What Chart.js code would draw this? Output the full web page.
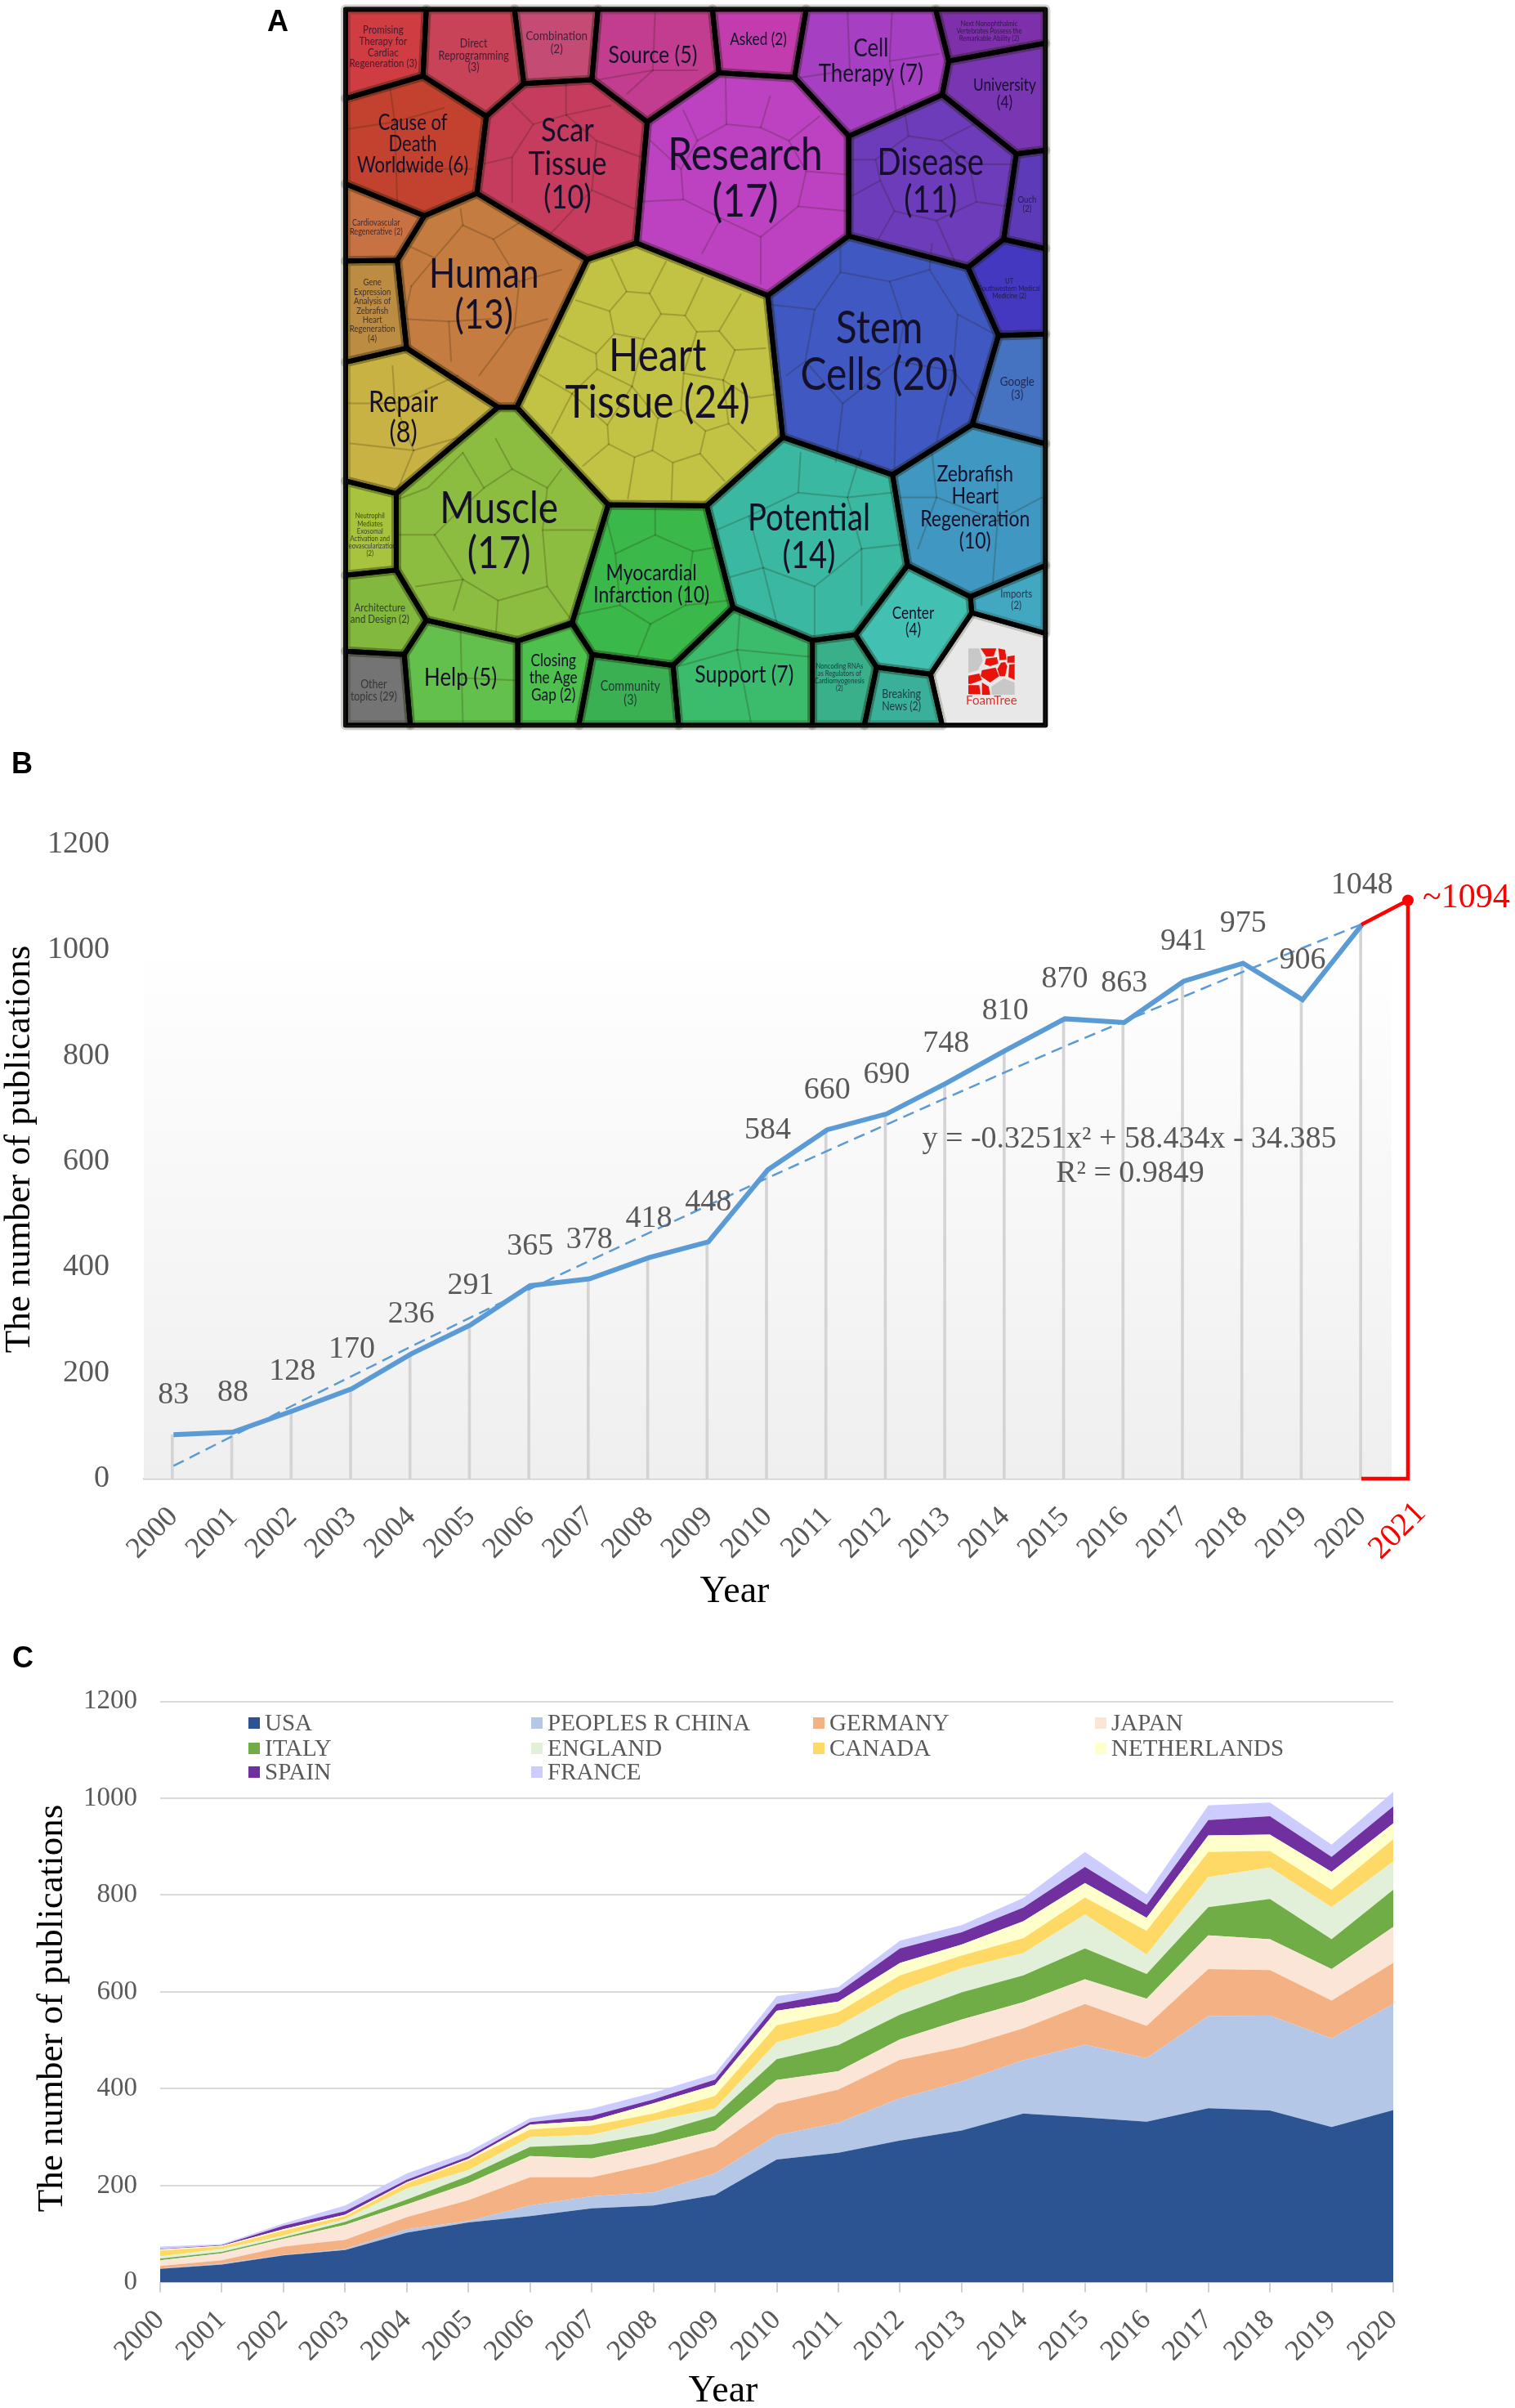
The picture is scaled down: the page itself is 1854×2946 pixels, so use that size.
<!DOCTYPE html>
<html>
<head>
<meta charset="utf-8">
<title>Cardiac regeneration publications</title>
<script src="https://cdn.jsdelivr.net/npm/chart.js@4"></script>
<style>
    html, body { margin: 0; padding: 0; background: #fff; }
    body { position: relative; width: 1854px; height: 2946px; overflow: hidden; }
    canvas { position: absolute; left: 0; }
</style>
</head>
<body>
<canvas id="foamChart" width="1854" height="900" style="top:0"></canvas>
<canvas id="trendChart" width="1854" height="1080" style="top:900px"></canvas>
<canvas id="countryChart" width="1854" height="946" style="top:2000px"></canvas>
<script>
// Panel B data
const years = ['2000', '2001', '2002', '2003', '2004', '2005', '2006', '2007', '2008', '2009', '2010',
    '2011', '2012', '2013', '2014', '2015', '2016', '2017', '2018', '2019', '2020'];
const publications = [83, 88, 128, 170, 236, 291, 365, 378, 418, 448, 584, 660, 690, 748, 810, 870, 863, 941, 975, 906, 1048];
const trendValues = [24, 81, 138, 194, 250, 305, 359, 412, 465, 517, 569, 620, 670, 720, 769, 818, 865, 912, 959, 1004, 1049];
const forecastYears = [2020, 2021, 2021, 2020];
const forecastValues = [1048, 1094, 0, 0];
const yTicks = [0, 200, 400, 600, 800, 1000, 1200];

// Panel C data
const countryNames = ['USA', 'PEOPLES R CHINA', 'GERMANY', 'JAPAN', 'ITALY', 'ENGLAND', 'CANADA', 'NETHERLANDS', 'SPAIN', 'FRANCE'];
const countryColors = ['#2c5392', '#b4c7e7', '#f4b183', '#fbe5d6', '#70ad47', '#e2f0d9', '#ffd966', '#ffffcc', '#7030a0', '#ccccff'];
const usa = [28, 37, 56, 67, 103, 124, 137, 153, 159, 181, 254, 268, 293, 314, 349, 341, 332, 360, 355, 321, 356];
const china = [1, 2, 1, 2, 7, 3, 22, 25, 27, 44, 50, 62, 87, 101, 110, 150, 131, 190, 196, 183, 219];
const germany = [5, 7, 17, 19, 25, 43, 58, 39, 59, 56, 65, 68, 80, 71, 66, 84, 67, 97, 94, 78, 85];
const japan = [12, 14, 16, 31, 26, 35, 44, 39, 38, 33, 49, 38, 42, 57, 54, 51, 56, 70, 64, 65, 74];
const italy = [3, 3, 3, 6, 10, 15, 19, 29, 24, 30, 43, 54, 51, 56, 55, 64, 51, 58, 83, 62, 77];
const england = [5, 6, 4, 6, 23, 12, 20, 20, 27, 15, 35, 40, 49, 50, 46, 70, 40, 62, 65, 66, 58];
const canada = [12, 5, 10, 6, 11, 20, 16, 19, 15, 26, 35, 28, 32, 26, 31, 35, 49, 52, 34, 36, 46];
const netherlands = [2, 2, 3, 3, 2, 3, 10, 10, 21, 23, 30, 22, 26, 23, 35, 30, 27, 34, 34, 37, 33];
const spain = [1, 1, 7, 7, 5, 5, 5, 10, 8, 11, 14, 19, 30, 25, 28, 33, 27, 32, 38, 31, 35];
const france = [5, 2, 5, 12, 13, 10, 8, 15, 14, 12, 16, 11, 16, 15, 20, 31, 22, 30, 28, 25, 30];
const countrySeries = [usa, china, germany, japan, italy, england, canada, netherlands, spain, france];

// Panel A data: one outline per topic (units of the foam map, 0-1568)
const foamLabels = [
    ['Promising', 'Therapy for', 'Cardiac', 'Regeneration (3)'], ['Direct', 'Reprogramming', '(3)'], ['Combination', '(2)'],
    ['Source (5)'], ['Asked (2)'], ['Cell', 'Therapy (7)'],
    ['Next Nonophthalmic', 'Vertebrates Possess the', 'Remarkable Ability (2)'], ['University', '(4)'], ['Ouch', '(2)'],
    ['Disease', '(11)'], ['Research', '(17)'], ['Scar', 'Tissue', '(10)'],
    ['Cause of', 'Death', 'Worldwide (6)'], ['Cardiovascular', 'Regenerative (2)'], ['Human', '(13)'],
    ['Gene', 'Expression', 'Analysis of', 'Zebrafish', 'Heart', 'Regeneration', '(4)'], ['Repair', '(8)'], ['Heart', 'Tissue (24)'],
    ['Stem', 'Cells (20)'], ['UT', 'Southwestern Medical', 'Medicine (2)'], ['Google', '(3)'],
    ['Muscle', '(17)'], ['Neutrophil', 'Mediates', 'Exosomal', 'Activation and', 'Neovascularization', '(2)'], ['Architecture', 'and Design (2)'],
    ['Other', 'topics (29)'], ['Help (5)'], ['Closing', 'the Age', 'Gap (2)'],
    ['Myocardial', 'Infarction (10)'], ['Community', '(3)'], ['Support (7)'],
    ['Potential', '(14)'], ['Zebrafish', 'Heart', 'Regeneration', '(10)'], ['Imports', '(2)'],
    ['Center', '(4)'], ['Noncoding RNAs', 'as Regulators of', 'Cardiomyogenesis', '(2)'], ['Breaking', 'News (2)']
];
const foamLabelCenters = [
    [120, 100], [313, 118], [490, 90], [695, 118], [920, 85], [1160, 130],
    [1412, 66], [1445, 200], [1493, 435], [1287, 387], [892, 380], [513, 350],
    [183, 308], [105, 484], [335, 628], [97, 662], [163, 890], [705, 808],
    [1178, 750], [1455, 615], [1472, 828], [367, 1132], [92, 1140], [113, 1308],
    [100, 1472], [285, 1445], [483, 1445], [692, 1245], [647, 1478], [890, 1438],
    [1028, 1145], [1382, 1082], [1470, 1278], [1250, 1325], [1093, 1443], [1225, 1492]
];
const foamLabelSizes = [12, 13, 14, 26, 18, 27, 8, 18, 10, 40, 50, 36, 23, 9.5, 44, 10, 32, 50, 50, 8, 14, 48, 8, 12, 13, 27, 18, 24, 15, 26, 40, 24, 12, 18, 8, 13];
const foamColors = [
    '#cf3c42', '#c84258', '#c44c74', '#c23c90', '#c23cae', '#a63fc2',
    '#7e30aa', '#7a36b2', '#5c3ab8', '#6c3cba', '#bc42c2', '#c63c5e',
    '#c2422f', '#c87244', '#c47c40', '#bc8c42', '#c8b244', '#c2c244',
    '#4058c2', '#4438c0', '#4672c2', '#8cbc40', '#a8c43e', '#82b83e',
    '#747474', '#64c04c', '#4ec04e', '#3ab84a', '#3ab052', '#3abc6c',
    '#3ab8a2', '#4098c2', '#42a8c2', '#42c0b2', '#3ab08a', '#3ab09a'
];
const foamOutlines = [
    [[40, 20], [212, 20], [205, 162], [40, 210]],
    [[212, 20], [400, 20], [420, 178], [340, 248], [205, 162]],
    [[400, 20], [578, 20], [565, 170], [420, 178]],
    [[578, 20], [822, 20], [836, 155], [683, 260], [565, 170]],
    [[822, 20], [1022, 20], [997, 165], [836, 155]],
    [[1022, 20], [1298, 20], [1326, 130], [1312, 202], [1113, 290], [997, 165]],
    [[1298, 20], [1532, 20], [1532, 92], [1326, 130]],
    [[1326, 130], [1532, 92], [1532, 320], [1470, 328], [1312, 202]],
    [[1470, 328], [1532, 320], [1532, 530], [1443, 510]],
    [[1113, 290], [1312, 202], [1470, 328], [1443, 510], [1367, 570], [1112, 503]],
    [[836, 155], [997, 165], [1113, 290], [1112, 503], [940, 630], [660, 518], [683, 260]],
    [[420, 178], [565, 170], [683, 260], [660, 518], [555, 553], [320, 412], [340, 248]],
    [[40, 210], [205, 162], [340, 248], [320, 412], [208, 460], [40, 392]],
    [[40, 392], [208, 460], [150, 555], [40, 556]],
    [[208, 460], [320, 412], [555, 553], [405, 868], [365, 868], [170, 742], [150, 555]],
    [[40, 556], [150, 555], [170, 742], [40, 772]],
    [[40, 772], [170, 742], [365, 868], [148, 1052], [40, 1025]],
    [[555, 553], [660, 518], [940, 630], [972, 932], [810, 1078], [600, 1076], [405, 868]],
    [[940, 630], [1112, 503], [1367, 570], [1432, 715], [1376, 905], [1206, 1012], [972, 932]],
    [[1367, 570], [1443, 510], [1532, 530], [1532, 712], [1432, 715]],
    [[1432, 715], [1532, 712], [1532, 946], [1376, 905]],
    [[365, 868], [405, 868], [600, 1076], [523, 1327], [407, 1366], [212, 1322], [148, 1215], [148, 1052]],
    [[40, 1025], [148, 1052], [148, 1215], [40, 1226]],
    [[40, 1226], [148, 1215], [212, 1322], [165, 1395], [40, 1388]],
    [[40, 1388], [165, 1395], [178, 1546], [40, 1546]],
    [[212, 1322], [407, 1366], [407, 1546], [178, 1546], [165, 1395]],
    [[407, 1366], [523, 1330], [566, 1395], [537, 1546], [407, 1546]],
    [[600, 1076], [810, 1078], [866, 1295], [738, 1418], [566, 1395], [523, 1327]],
    [[566, 1395], [738, 1418], [750, 1546], [537, 1546]],
    [[866, 1295], [1035, 1365], [1035, 1546], [750, 1546], [738, 1418]],
    [[810, 1078], [972, 932], [1206, 1012], [1238, 1205], [1127, 1353], [1035, 1365], [866, 1295]],
    [[1206, 1012], [1376, 905], [1532, 946], [1532, 1205], [1372, 1272], [1238, 1205]],
    [[1372, 1272], [1532, 1205], [1532, 1350], [1375, 1306]],
    [[1238, 1205], [1372, 1272], [1375, 1306], [1287, 1437], [1172, 1422], [1127, 1353]],
    [[1035, 1365], [1127, 1353], [1172, 1422], [1146, 1546], [1035, 1546]],
    [[1172, 1422], [1287, 1437], [1312, 1546], [1146, 1546]]
];
const foamLogoOutline = [[1375, 1306], [1532, 1350], [1532, 1546], [1312, 1546], [1287, 1437]];

// sub-topic walls inside the big cells, each one a short polyline
const foamInnerWalls = [
    // Research
    [[850, 165], [852, 265], [925, 272], [945, 205]], [[925, 272], [985, 300], [1050, 248]], [[985, 300], [1022, 365], [1108, 372]],
    [[1022, 365], [1005, 440], [1108, 450]], [[1005, 440], [925, 505], [840, 465], [760, 425], [755, 360], [790, 300], [852, 265]],
    [[925, 505], [925, 605]], [[840, 465], [800, 540]], [[760, 425], [668, 430]], [[755, 360], [690, 300]], [[790, 300], [760, 235]],
    // Stem cells
    [[1095, 510], [1095, 580], [1040, 660], [950, 650]], [[1095, 580], [1200, 600], [1285, 575], [1290, 520]], [[1200, 600], [1230, 690], [1215, 770]],
    [[1285, 575], [1345, 670], [1420, 710]], [[1040, 660], [1020, 770], [980, 800]], [[1020, 770], [1100, 860], [1215, 770], [1335, 790]],
    [[1100, 860], [1085, 985]], [[1215, 770], [1210, 1005]], [[1335, 790], [1300, 940]], [[1335, 790], [1385, 850]], [[1345, 670], [1335, 790]],
    // Muscle
    [[290, 965], [335, 1040], [395, 1000], [360, 935]], [[290, 965], [215, 1040], [150, 1065]], [[335, 1040], [270, 1100], [230, 1140]],
    [[395, 1000], [470, 1040], [500, 1000]], [[470, 1040], [460, 1130], [570, 1130]], [[230, 1140], [155, 1140]], [[230, 1140], [290, 1235], [190, 1250]],
    [[290, 1235], [270, 1300]], [[460, 1130], [470, 1250], [520, 1320]], [[470, 1250], [365, 1280], [360, 1355]], [[290, 1235], [365, 1280]],
    // Human
    [[285, 445], [290, 480], [355, 510], [410, 475]], [[290, 480], [230, 550], [165, 520]], [[355, 510], [410, 600], [500, 575]], [[230, 550], [180, 610]],
    [[180, 610], [165, 680], [260, 685], [350, 680]], [[410, 600], [400, 700], [470, 680]], [[400, 700], [325, 800]], [[260, 685], [265, 770]],
    // Potential
    [[1010, 965], [1005, 1050], [1110, 1060], [1140, 960]], [[1005, 1050], [900, 1100], [830, 1130]], [[1110, 1060], [1205, 1050]], [[1110, 1060], [1140, 1170], [1230, 1160]],
    [[900, 1100], [930, 1210], [860, 1230]], [[930, 1210], [960, 1330]], [[930, 1210], [1040, 1250], [1040, 1360]], [[1140, 1170], [1040, 1250]], [[1140, 1170], [1140, 1290]],
    // Disease
    [[1230, 225], [1240, 290], [1170, 340], [1120, 340]], [[1240, 290], [1310, 300], [1390, 260]], [[1310, 300], [1370, 350], [1462, 350]], [[1370, 350], [1385, 430], [1450, 440]],
    [[1385, 430], [1300, 470], [1340, 560]], [[1300, 470], [1210, 450], [1180, 385], [1170, 340]], [[1210, 450], [1170, 520]], [[1180, 385], [1115, 420]],
    // Scar tissue
    [[510, 178], [510, 245], [605, 225]], [[510, 245], [440, 265], [395, 220]], [[440, 265], [395, 335], [332, 350]], [[395, 335], [395, 430]],
    [[510, 245], [575, 300], [670, 335]], [[575, 300], [565, 405], [655, 445]], [[565, 405], [475, 500]],
    // Myocardial
    [[700, 1085], [700, 1140], [615, 1180], [595, 1100]], [[700, 1140], [780, 1175], [840, 1165]], [[615, 1180], [625, 1290], [530, 1310]], [[780, 1175], [765, 1290], [855, 1280]],
    [[625, 1290], [690, 1330], [765, 1290]], [[690, 1330], [660, 1405]],
    // Zebrafish
    [[1290, 965], [1300, 1060], [1210, 1060]], [[1300, 1060], [1430, 1110], [1525, 1060]], [[1430, 1110], [1420, 1240]], [[1300, 1060], [1260, 1170]], [[1430, 1000], [1430, 1110]],
    // Repair
    [[140, 780], [145, 860], [45, 860]], [[145, 860], [185, 960], [150, 1045]], [[145, 860], [280, 800]], [[185, 960], [50, 945]], [[185, 960], [290, 930]],
    // Cell therapy
    [[1110, 25], [1115, 150]], [[1205, 25], [1200, 130], [1305, 115]], [[1200, 130], [1215, 250]], [[1115, 150], [1010, 165]],
    // Cause of death
    [[135, 190], [145, 260], [45, 275]], [[145, 260], [150, 430]], [[145, 260], [250, 230]], [[150, 360], [310, 360]],
    // Source, Help, Support
    [[700, 25], [695, 150], [580, 170]], [[695, 150], [640, 200]], [[695, 150], [790, 150]],
    [[285, 1345], [290, 1540]], [[290, 1445], [400, 1450]],
    [[880, 1310], [875, 1385], [750, 1420]], [[875, 1385], [905, 1545]], [[875, 1385], [1030, 1400]]
];

const heartCrop = { x: 660, y: 290, scale: 3 };
const heartWalls = [
    [[265, 80], [320, 200], [405, 207], [465, 90]], [[135, 232], [258, 272], [320, 200]], [[405, 207], [447, 282], [535, 288], [600, 150]],
    [[535, 288], [578, 348], [660, 345], [740, 210]], [[660, 345], [718, 415], [830, 408]], [[718, 415], [675, 525], [775, 590], [860, 578]],
    [[578, 348], [530, 500], [675, 525]], [[258, 272], [275, 355], [385, 375], [447, 282]], [[275, 355], [208, 428], [72, 362]],
    [[208, 428], [212, 485], [340, 548], [385, 375]], [[212, 485], [120, 575], [0, 505]], [[120, 575], [45, 720]], [[120, 575], [250, 690], [255, 760], [160, 840]],
    [[255, 760], [350, 808], [325, 960]], [[350, 808], [415, 783], [490, 828], [485, 965]], [[490, 828], [590, 795], [680, 895]], [[590, 795], [610, 712], [695, 685], [795, 785]],
    [[415, 783], [435, 665], [520, 635], [610, 712]], [[340, 548], [250, 690]], [[340, 548], [435, 665]], [[530, 500], [520, 635]], [[675, 525], [695, 685]]
];
const logoCrop = { x: 980, y: 740, scale: 3 };
const logoGray = [
    [[615, 160], [655, 160], [668, 205], [650, 240], [615, 250]],
    [[700, 300], [745, 270], [785, 285], [785, 330], [700, 330]]
];
const logoRed = [
    [[660, 160], [718, 160], [708, 188], [680, 190]], [[725, 160], [750, 165], [755, 200], [730, 203]],
    [[680, 197], [720, 192], [725, 215], [695, 225], [675, 218]], [[758, 190], [785, 185], [785, 212], [758, 212]],
    [[735, 212], [750, 210], [758, 225], [750, 262], [730, 262], [722, 235]], [[665, 240], [715, 230], [728, 262], [695, 285], [660, 262]],
    [[765, 220], [785, 217], [785, 275], [762, 265]], [[615, 260], [655, 252], [665, 275], [625, 290], [615, 290]],
    [[615, 295], [655, 295], [660, 328], [615, 328]], [[665, 285], [690, 300], [695, 330], [665, 330]]
];

const SERIF = '"Liberation Serif", serif';
const GREY = '#595959';

// foam map units per screen pixel
const FOAM_UNIT = 1568 / 900;

function toXY(list) {
    return list.map(p => ({ x: p[0], y: p[1] }));
}

function fromCrop(list, crop) {
    return list.map(p => [(crop.x - 400 + p[0] / crop.scale) * FOAM_UNIT, (crop.y + p[1] / crop.scale) * FOAM_UNIT]);
}

function closed(list) {
    return toXY(list.concat([list[0]]));
}

function foamFill(list, color) {
    return { data: closed(list), fill: 'shape', backgroundColor: color, borderWidth: 0, showLine: true, pointRadius: 0, tension: 0 };
}

function foamLine(points, color, width) {
    return { data: points, fill: false, borderColor: color, borderWidth: width, showLine: true, pointRadius: 0, tension: 0, borderJoinStyle: 'round', borderCapStyle: 'round' };
}

// free text (panel letters, axis names, equation) at screen positions of the canvas
function notesPlugin(notes) {
    return {
        id: 'notes',
        afterDraw(chart) {
            const ctx = chart.ctx;
            notes.forEach(n => {
                ctx.save();
                ctx.translate(n.x, n.y);
                ctx.rotate((n.angle || 0) * Math.PI / 180);
                ctx.font = n.font;
                ctx.fillStyle = n.color || '#000';
                ctx.textAlign = n.align || 'center';
                ctx.textBaseline = 'middle';
                ctx.fillText(n.text, 0, 0);
                ctx.restore();
            });
        }
    };
}

// ---- Panel A
const foamLabelPlugin = {
    id: 'foamLabels',
    afterDatasetsDraw(chart) {
        const ctx = chart.ctx;
        const xs = chart.scales.x, ys = chart.scales.y;
        foamLabels.forEach((lines, i) => {
            const size = foamLabelSizes[i];
            const gap = size * 1.14;
            const cx = xs.getPixelForValue(foamLabelCenters[i][0]);
            const cy = ys.getPixelForValue(foamLabelCenters[i][1]);
            ctx.save();
            ctx.font = (size * 1.14) + 'px Lato, sans-serif';
            ctx.fillStyle = i === 24 ? '#222' : '#15102a';
            ctx.globalAlpha = size < 16 ? 0.75 : 1;
            ctx.textAlign = 'center';
            ctx.textBaseline = 'middle';
            lines.forEach((line, k) => {
                // the cell font is narrower than Lato
                ctx.setTransform(0.84, 0, 0, 1, cx, cy + (k - (lines.length - 1) / 2) * gap);
                ctx.fillText(line, 0, 0);
            });
            ctx.restore();
        });
        ctx.font = '15px Lato, sans-serif';
        ctx.fillStyle = '#d9352b';
        ctx.textAlign = 'center';
        ctx.textBaseline = 'middle';
        ctx.fillText('FoamTree', xs.getPixelForValue(1417), ys.getPixelForValue(1494));
    }
};

// Chart.js paints the last dataset first, so the list runs from top layer to bottom layer
const foamDatasets = []
    .concat(foamLine(closed([[38, 18], [1532, 18], [1532, 1548], [38, 1548]]), '#111', 3))
    .concat(foamLine(closed(foamLogoOutline), '#000', 6))
    .concat(foamOutlines.map(o => foamLine(closed(o), '#000', 6)))
    .concat(foamOutlines.map(o => foamLine(closed(o), 'rgba(30,30,0,0.2)', 12)))
    .concat(heartWalls.map(w => foamLine(toXY(fromCrop(w, heartCrop)), 'rgba(40,30,0,0.22)', 2)))
    .concat(foamInnerWalls.map(w => foamLine(toXY(w), 'rgba(40,30,0,0.22)', 2)))
    .concat(logoRed.map(o => foamFill(fromCrop(o, logoCrop), '#e8140c')))
    .concat(logoGray.map(o => foamFill(fromCrop(o, logoCrop), '#c8c8c8')))
    .concat(foamFill(foamLogoOutline, '#e8e8e8'))
    .concat(foamOutlines.map((o, i) => foamFill(o, foamColors[i])));

new Chart(document.getElementById('foamChart'), {
    type: 'scatter',
    data: { datasets: foamDatasets },
    options: {
        responsive: false,
        animation: false,
        layout: { padding: { left: 400, right: 554, top: 0, bottom: 0 } },
        plugins: { legend: { display: false }, tooltip: { enabled: false } },
        scales: {
            x: { display: false, min: 0, max: 1568 },
            y: { display: false, min: 0, max: 1568, reverse: true }
        }
    },
    plugins: [foamLabelPlugin, notesPlugin([
        { text: 'A', x: 340, y: 28, font: 'bold 36px "Liberation Sans", sans-serif' }
    ])]
});

// ---- Panel B
const trendPlugin = {
    id: 'trendDecor',
    beforeDatasetsDraw(chart) {
        const ctx = chart.ctx, a = chart.chartArea, ys = chart.scales.y;
        const top = ys.getPixelForValue(1010);
        const g = ctx.createLinearGradient(0, top, 0, a.bottom);
        g.addColorStop(0, '#ffffff');
        g.addColorStop(1, '#efefef');
        ctx.fillStyle = g;
        ctx.fillRect(a.left, top, a.right - a.left, a.bottom - top);
    },
    afterDatasetsDraw(chart) {
        const ctx = chart.ctx, xs = chart.scales.x, ys = chart.scales.y, xr = chart.scales.xForecast;
        ctx.font = '38px ' + SERIF;
        ctx.fillStyle = GREY;
        ctx.textAlign = 'center';
        ctx.textBaseline = 'middle';
        publications.forEach((v, i) => {
            ctx.fillText(String(v), xs.getPixelForValue(i), ys.getPixelForValue(v) - 48);
        });
        // the 2021 forecast sits outside the category axis, so its dot and labels follow the red scale
        const redX = xr.getPixelForValue(forecastYears[1]);
        const redY = ys.getPixelForValue(forecastValues[1]);
        ctx.fillStyle = '#ff0000';
        ctx.beginPath();
        ctx.arc(redX, redY, 7, 0, Math.PI * 2);
        ctx.fill();
        ctx.save();
        ctx.translate(redX + 16, ys.bottom + 36);
        ctx.rotate(-Math.PI / 4);
        ctx.font = '40px ' + SERIF;
        ctx.textAlign = 'right';
        ctx.fillText('2021', 0, 0);
        ctx.restore();
        ctx.font = '42px ' + SERIF;
        ctx.textAlign = 'left';
        ctx.fillText('~1094', redX + 18, redY - 3);
    }
};

new Chart(document.getElementById('trendChart'), {
    type: 'line',
    data: {
        labels: years,
        datasets: [
            {
                type: 'bar', data: publications, backgroundColor: '#d4d4d4', barThickness: 3, order: 4
            },
            {
                data: publications, borderColor: '#5b9bd5', borderWidth: 6, pointRadius: 0, tension: 0, order: 2,
                borderJoinStyle: 'miter'
            },
            {
                data: trendValues, borderColor: '#5b9bd5', borderWidth: 2.5, borderDash: [14, 8], pointRadius: 0, tension: 0, order: 3
            },
            {
                data: forecastYears.map((y, i) => ({ x: y, y: forecastValues[i] })),
                xAxisID: 'xForecast', borderColor: '#ff0000', borderWidth: 4.5,
                pointRadius: 0, tension: 0, clip: false, order: 1,
                borderJoinStyle: 'miter'
            }
        ]
    },
    options: {
        responsive: false,
        animation: false,
        layout: { padding: { left: 0, right: 151, top: 133, bottom: 0 } },
        plugins: { legend: { display: false }, tooltip: { enabled: false } },
        scales: {
            x: {
                offset: true,
                grid: { display: false },
                border: { color: '#d0d0d0', width: 2.5 },
                afterFit: s => { s.height = 171; },
                ticks: {
                    color: GREY, font: { family: SERIF, size: 36 }, minRotation: 45, maxRotation: 45, padding: 18, autoSkip: false
                }
            },
            // 57 px per year around 2020, lines the red segment up with the 2020 category
            xForecast: { type: 'linear', display: false, min: 1993.86, max: 2020.65 },
            y: {
                min: 0, max: 1200,
                afterBuildTicks: s => { s.ticks = yTicks.map(v => ({ value: v })); },
                afterFit: s => { s.width = 176; },
                grid: { display: false },
                border: { display: false },
                ticks: { color: GREY, font: { family: SERIF, size: 38 }, padding: 34, callback: v => String(v) }
            }
        }
    },
    plugins: [trendPlugin, notesPlugin([
        { text: 'B', x: 27, y: 36, font: 'bold 36px "Liberation Sans", sans-serif' },
        { text: 'The number of publications', x: 24, y: 506, angle: -90, font: '45px ' + SERIF },
        { text: 'Year', x: 899, y: 1048, font: '46px ' + SERIF },
        { text: 'y = -0.3251x\u00B2 + 58.434x - 34.385', x: 1382, y: 494, font: '38px ' + SERIF, color: GREY },
        { text: 'R\u00B2 = 0.9849', x: 1383, y: 536, font: '38px ' + SERIF, color: GREY }
    ])]
});

// ---- Panel C
const legendPlugin = {
    id: 'countryLegend',
    afterDraw(chart) {
        const ctx = chart.ctx;
        const columns = [304, 650, 995, 1340];
        const rows = [108, 139, 168];
        ctx.font = '29px ' + SERIF;
        ctx.textBaseline = 'middle';
        ctx.textAlign = 'left';
        countryNames.forEach((name, i) => {
            const x = columns[i % 4], y = rows[Math.floor(i / 4)];
            ctx.fillStyle = countryColors[i];
            ctx.fillRect(x, y - 7, 14, 14);
            ctx.fillStyle = GREY;
            ctx.fillText(name, x + 20, y + 1);
        });
    }
};

new Chart(document.getElementById('countryChart'), {
    type: 'line',
    data: {
        labels: years,
        datasets: countrySeries.map((values, i) => ({
            label: countryNames[i],
            data: values,
            fill: i === 0 ? 'origin' : '-1',
            backgroundColor: countryColors[i],
            borderWidth: 0,
            pointRadius: 0,
            tension: 0
        }))
    },
    options: {
        responsive: false,
        animation: false,
        layout: { padding: { left: 0, right: 149, top: 81.5, bottom: 0 } },
        plugins: { legend: { display: false }, tooltip: { enabled: false } },
        scales: {
            x: {
                offset: false,
                grid: { drawOnChartArea: false, color: '#d0d0d0', lineWidth: 2, tickLength: 12 },
                border: { display: false },
                afterFit: s => { s.height = 153.6; },
                ticks: {
                    color: GREY, font: { family: SERIF, size: 35 }, minRotation: 45, maxRotation: 45, padding: 14, autoSkip: false
                }
            },
            y: {
                stacked: true,
                min: 0, max: 1200,
                afterBuildTicks: s => { s.ticks = yTicks.map(v => ({ value: v })); },
                afterFit: s => { s.width = 196; },
                grid: { color: '#d9d9d9', lineWidth: 2, drawTicks: false },
                border: { display: false },
                ticks: { color: GREY, font: { family: SERIF, size: 33 }, padding: 28, callback: v => String(v) }
            }
        }
    },
    plugins: [legendPlugin, notesPlugin([
        { text: 'C', x: 28, y: 30, font: 'bold 36px "Liberation Sans", sans-serif' },
        { text: 'The number of publications', x: 64, y: 457, angle: -90, font: '45px ' + SERIF },
        { text: 'Year', x: 885, y: 926, font: '46px ' + SERIF }
    ])]
});
</script>
</body>
</html>
